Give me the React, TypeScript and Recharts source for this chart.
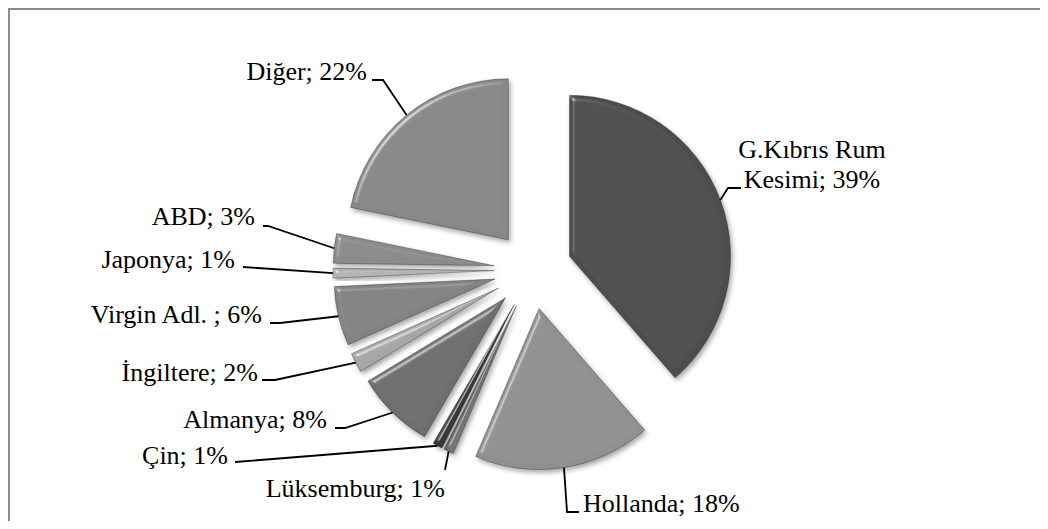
import { PieChart, Pie, Cell, Sector } from 'recharts'

// shares by country, clockwise from 12 o'clock
const countries = [
  'G.Kıbrıs Rum Kesimi',
  'Hollanda',
  'Lüksemburg',
  'Çin',
  'Almanya',
  'İngiltere',
  'Virgin Adl. ',
  'Japonya',
  'ABD',
  'Diğer',
]
const shares = [39, 18, 1, 1, 8, 2, 6, 1, 3, 22]
const greys = ['#4d4d4d', '#909090', '#767676', '#383838', '#6e6e6e', '#a6a6a6', '#838383', '#b5b5b5', '#8b8b8b', '#888888']

const data = countries.map((name, i) => ({ name, value: shares[i] }))

const W = 1040
const H = 513
const CX = 525
const CY = 262
const R = 161
const EXPLODE = 39
const RAD = Math.PI / 180
const FONT = "'Liberation Serif', 'Times New Roman', serif"

// label placement (chart px): text anchor + baseline, then leader points after the slice edge
const labelPos: Record<string, any> = {
  'G.Kıbrıs Rum Kesimi': { x: 804, y: 150, anchor: 'middle', wrap: 2, pts: [[720, 180], [733, 180]] },
  'Hollanda': { x: 575, y: 504, anchor: 'start', pts: [[559, 504], [571, 504]] },
  'Lüksemburg': { x: 437, y: 489, anchor: 'end', pts: [[437, 462]] },
  'Çin': { x: 220, y: 456, anchor: 'end', pts: [[227, 454]] },
  'Almanya': { x: 319, y: 420, anchor: 'end', pts: [[337, 420], [327, 420]] },
  'İngiltere': { x: 250, y: 373, anchor: 'end', pts: [[267, 372], [254, 372]] },
  'Virgin Adl. ': { x: 254, y: 315, anchor: 'end', pts: [[272, 315], [262, 315]] },
  'Japonya': { x: 227, y: 260, anchor: 'end', pts: [[235, 259]] },
  'ABD': { x: 247, y: 217, anchor: 'end', pts: [[260, 218], [255, 218]] },
  'Diğer': { x: 359, y: 72, anchor: 'end', pts: [[375, 72], [364, 72]] },
}

function ExplodedSector(props: any) {
  const a = -props.midAngle * RAD
  return (
    <g filter="url(#bevel)">
      <Sector
        {...props}
        cx={props.cx + EXPLODE * Math.cos(a)}
        cy={props.cy + EXPLODE * Math.sin(a)}
        stroke="#000"
        strokeOpacity={0.3}
        strokeWidth={1}
      />
    </g>
  )
}

function renderLabel(props: any) {
  const name = props.payload?.name ?? props.name
  const pos = labelPos[name]
  if (!pos) return null
  const a = -props.midAngle * RAD
  const r = props.outerRadius + EXPLODE
  const sx = props.cx + r * Math.cos(a)
  const sy = props.cy + r * Math.sin(a)
  const pts = [[sx, sy], ...pos.pts].map((p) => p.join(',')).join(' ')
  const text = `${name}; ${props.value}%`
  const words = text.split(' ')
  const lines = pos.wrap ? [words.slice(0, pos.wrap).join(' '), words.slice(pos.wrap).join(' ')] : [text]
  return (
    <g key={`lbl-${name}`}>
      <polyline points={pts} fill="none" stroke="#000" strokeWidth={1.8} />
      <text x={pos.x} y={pos.y} textAnchor={pos.anchor} fontFamily={FONT} fontSize={26} fill="#000">
        {lines.map((l, i) => (
          <tspan key={i} x={pos.x} dy={i ? 30 : 0}>
            {l}
          </tspan>
        ))}
      </text>
    </g>
  )
}

export default function App() {
  return (
    <div
      style={{
        position: 'relative',
        width: W,
        height: H,
        borderTop: '2px solid #8c8c8c',
        borderLeft: '2px solid #8c8c8c',
        boxSizing: 'border-box',
        overflow: 'hidden',
      }}
    >
      <svg width={0} height={0} style={{ position: 'absolute' }}>
        <defs>
          <filter id="bevel" x="-20%" y="-20%" width="140%" height="140%">
            <feGaussianBlur in="SourceAlpha" stdDeviation="2.5" result="blur" />
            <feSpecularLighting in="blur" surfaceScale="5" specularConstant="0.9" specularExponent="28" lightingColor="#ffffff" result="spec">
              <feDistantLight azimuth="225" elevation="30" />
            </feSpecularLighting>
            <feComposite in="spec" in2="SourceAlpha" operator="in" result="specIn" />
            <feComposite in="SourceGraphic" in2="specIn" operator="arithmetic" k1="0" k2="1" k3="0.55" k4="0" result="lit" />
            <feOffset in="blur" dx="2" dy="3" result="off" />
            <feFlood floodColor="#000" floodOpacity="0.35" />
            <feComposite in2="off" operator="in" result="shadow" />
            <feMerge>
              <feMergeNode in="shadow" />
              <feMergeNode in="lit" />
            </feMerge>
          </filter>
        </defs>
      </svg>
      <div style={{ position: 'absolute', left: -2, top: -2 }}>
        <PieChart width={W} height={H} margin={{ top: 0, right: 0, bottom: 0, left: 0 }}>
          <Pie
            data={data}
            dataKey="value"
            nameKey="name"
            cx={CX}
            cy={CY}
            outerRadius={R}
            startAngle={90}
            endAngle={-270}
            stroke="none"
            shape={ExplodedSector}
            label={renderLabel}
            labelLine={false}
            isAnimationActive={false}
          >
            {data.map((d, i) => (
              <Cell key={d.name} fill={greys[i]} />
            ))}
          </Pie>
        </PieChart>
      </div>
    </div>
  )
}
